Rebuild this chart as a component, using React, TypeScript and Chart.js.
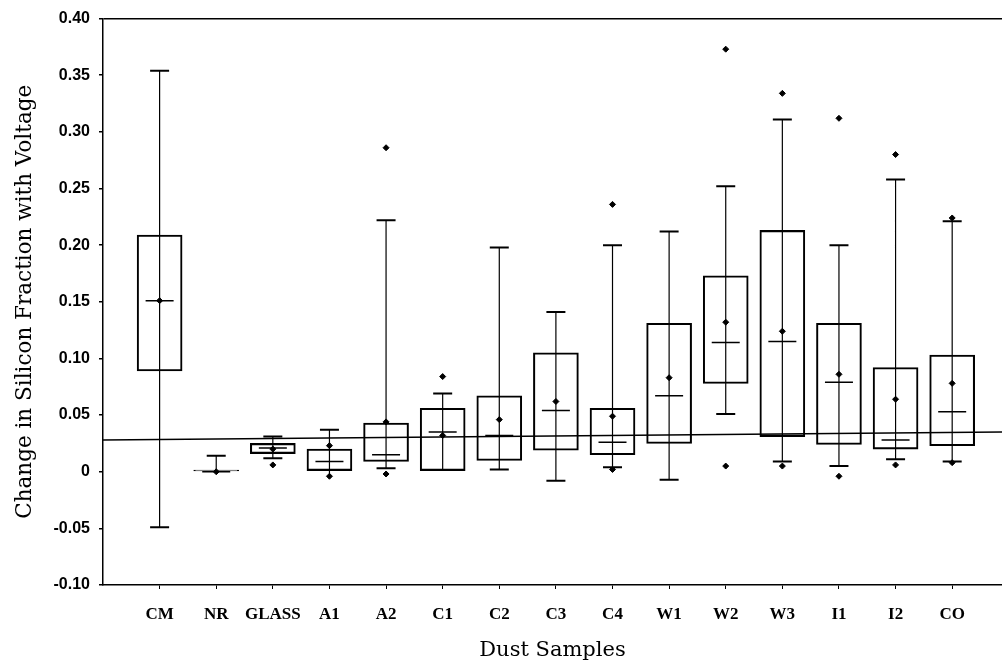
import React, { useEffect, useRef } from "react";
import { Chart, registerables } from "chart.js";

Chart.register(...registerables);

const categories = ["CM", "NR", "GLASS", "A1", "A2", "C1", "C2", "C3", "C4", "W1", "W2", "W3", "I1", "I2", "CO"];
const boxLow = [0.089, 0, 0.016, 0.001, 0.009, 0.001, 0.010, 0.019, 0.015, 0.025, 0.078, 0.031, 0.024, 0.020, 0.023];
const boxHigh = [0.209, 0.0015, 0.025, 0.020, 0.043, 0.056, 0.067, 0.105, 0.056, 0.131, 0.173, 0.213, 0.131, 0.092, 0.103];
const medians = [0.151, 0, 0.021, 0.009, 0.015, 0.035, 0.032, 0.054, 0.026, 0.067, 0.114, 0.115, 0.079, 0.028, 0.053];
const means = [0.151, 0, 0.020, 0.023, 0.044, 0.032, 0.046, 0.062, 0.049, 0.083, 0.132, 0.124, 0.086, 0.064, 0.078];
const whiskerHigh = [0.354, 0.014, 0.031, 0.037, 0.222, 0.069, 0.198, 0.141, 0.200, 0.212, 0.252, 0.311, 0.200, 0.258, 0.221];
const whiskerLow = [-0.049, 0, 0.012, -0.004, 0.003, 0.001, 0.002, -0.008, 0.004, -0.007, 0.051, 0.009, 0.005, 0.011, 0.009];
const capHigh = [0.354, 0.014, 0.031, 0.037, 0.222, 0.069, 0.198, 0.141, 0.200, 0.212, 0.252, 0.311, 0.200, 0.258, 0.221];
const capLow = [-0.049, null, 0.012, null, 0.003, null, 0.002, -0.008, 0.004, -0.007, 0.051, 0.009, 0.005, 0.011, 0.009];
const outliers = [[], [], [0.006], [-0.004], [0.286, -0.002], [0.084], [], [], [0.236, 0.002], [], [0.373, 0.005], [0.334, 0.005], [0.312, -0.004], [0.280, 0.006], [0.224, 0.008]];
const refLineX = [-1, 14.88];
const refLineY = [0.028, 0.035];
const yTickValues = [-0.1, -0.05, 0, 0.05, 0.1, 0.15, 0.2, 0.25, 0.3, 0.35, 0.4];

export default function App() {
  const canvasRef = useRef<HTMLCanvasElement | null>(null);

  useEffect(() => {
    document.body.style.margin = "0";
    document.body.style.overflow = "hidden";
    const canvas = canvasRef.current;
    if (!canvas) return;

    const whiskerData: any[] = [];
    categories.forEach((_, i) => {
      whiskerData.push({ x: i, y: whiskerLow[i] });
      whiskerData.push({ x: i, y: whiskerHigh[i] });
      whiskerData.push({ x: i, y: null });
    });
    const capData: any[] = [];
    categories.forEach((_, i) => {
      if (capHigh[i] !== null) capData.push({ x: i, y: capHigh[i] });
      if (capLow[i] !== null) capData.push({ x: i, y: capLow[i] });
    });
    const outlierData: any[] = [];
    outliers.forEach((vals, i) => vals.forEach((v) => outlierData.push({ x: i, y: v })));

    const black = "#000";
    const chart = new Chart(canvas, {
      type: "bar",
      data: {
        datasets: [
          {
            type: "scatter",
            data: means.map((v, i) => ({ x: i, y: v })),
            pointStyle: "rectRot",
            pointRadius: 3,
            backgroundColor: black,
            borderColor: black,
            borderWidth: 1,
          } as any,
          {
            type: "scatter",
            data: outlierData,
            pointStyle: "rectRot",
            pointRadius: 3,
            backgroundColor: black,
            borderColor: black,
            borderWidth: 1,
          } as any,
          {
            type: "scatter",
            data: medians.map((v, i) => ({ x: i, y: v })),
            pointStyle: "line",
            pointRadius: 14,
            borderColor: black,
            borderWidth: 1.5,
          } as any,
          {
            type: "scatter",
            data: capData,
            pointStyle: "line",
            pointRadius: 9.5,
            borderColor: black,
            borderWidth: 2,
          } as any,
          {
            type: "line",
            data: whiskerData,
            borderColor: black,
            borderWidth: 1.2,
            pointRadius: 0,
            spanGaps: false,
          } as any,
          {
            type: "bar",
            data: categories.map((_, i) => ({ x: i, y: [boxLow[i], boxHigh[i]] })),
            barThickness: 45,
            grouped: false,
            backgroundColor: "rgba(0,0,0,0)",
            borderColor: black,
            borderWidth: 1.4,
            borderSkipped: false,
          } as any,
          {
            type: "line",
            data: refLineX.map((x, i) => ({ x, y: refLineY[i] })),
            borderColor: black,
            borderWidth: 1.5,
            pointRadius: 0,
          } as any,
        ],
      },
      options: {
        animation: false,
        responsive: false,
        maintainAspectRatio: false,
        devicePixelRatio: 1,
        layout: { autoPadding: false, padding: { top: 18, left: 0, right: 0, bottom: 0 } },
        plugins: { legend: { display: false }, tooltip: { enabled: false } },
        scales: {
          x: {
            type: "linear",
            offset: false,
            min: -1,
            max: 14.88,
            afterBuildTicks: (scale: any) => {
              scale.ticks = categories.map((_, i) => ({ value: i }));
            },
            afterFit: (scale: any) => {
              scale.height = 79;
              scale.paddingRight = 0;
              scale.paddingLeft = 0;
            },
            ticks: {
              autoSkip: false,
              maxRotation: 0,
              padding: 15,
              color: black,
              font: { family: "Liberation Serif", weight: "bold", size: 17 },
              callback: (v: any) => categories[Math.round(Number(v))] ?? "",
            },
            grid: { offset: false, drawOnChartArea: false, tickLength: 4, color: black, lineWidth: 1 },
            border: { display: true, color: black, width: 1.5 },
            title: {
              display: true,
              text: "Dust Samples",
              color: black,
              font: { family: "DejaVu Serif", size: 21 },
              padding: { top: 0, bottom: 1 },
            },
          },
          y: {
            type: "linear",
            min: -0.1,
            max: 0.4,
            afterBuildTicks: (scale: any) => {
              scale.ticks = yTickValues.map((v) => ({ value: v }));
            },
            afterFit: (scale: any) => {
              scale.width = 103;
              scale.paddingLeft = 0;
              scale.paddingRight = 0;
            },
            ticks: {
              padding: 9,
              color: black,
              font: { family: "Liberation Sans", weight: "bold", size: 16 },
              callback: (v: any) => (Math.abs(Number(v)) < 1e-9 ? "0" : Number(v).toFixed(2)),
            },
            grid: {
              drawOnChartArea: true,
              tickLength: 4,
              tickColor: black,
              color: (ctx: any) => (ctx.tick && Math.abs(ctx.tick.value - 0.4) < 1e-9 ? black : "rgba(0,0,0,0)"),
              lineWidth: 1.5,
            },
            border: { display: true, color: black, width: 1.5 },
            title: {
              display: true,
              text: "Change in Silicon Fraction with Voltage",
              color: black,
              font: { family: "DejaVu Serif", size: 21.5 },
              padding: { top: 13, bottom: 0 },
            },
          },
        },
      } as any,
    });
    return () => chart.destroy();
  }, []);

  return (
    <div style={{ width: 1002, height: 664, position: "relative", background: "#fff", overflow: "hidden" }}>
      <canvas ref={canvasRef} width={1002} height={664} style={{ display: "block", width: 1002, height: 664 }} />
    </div>
  );
}
